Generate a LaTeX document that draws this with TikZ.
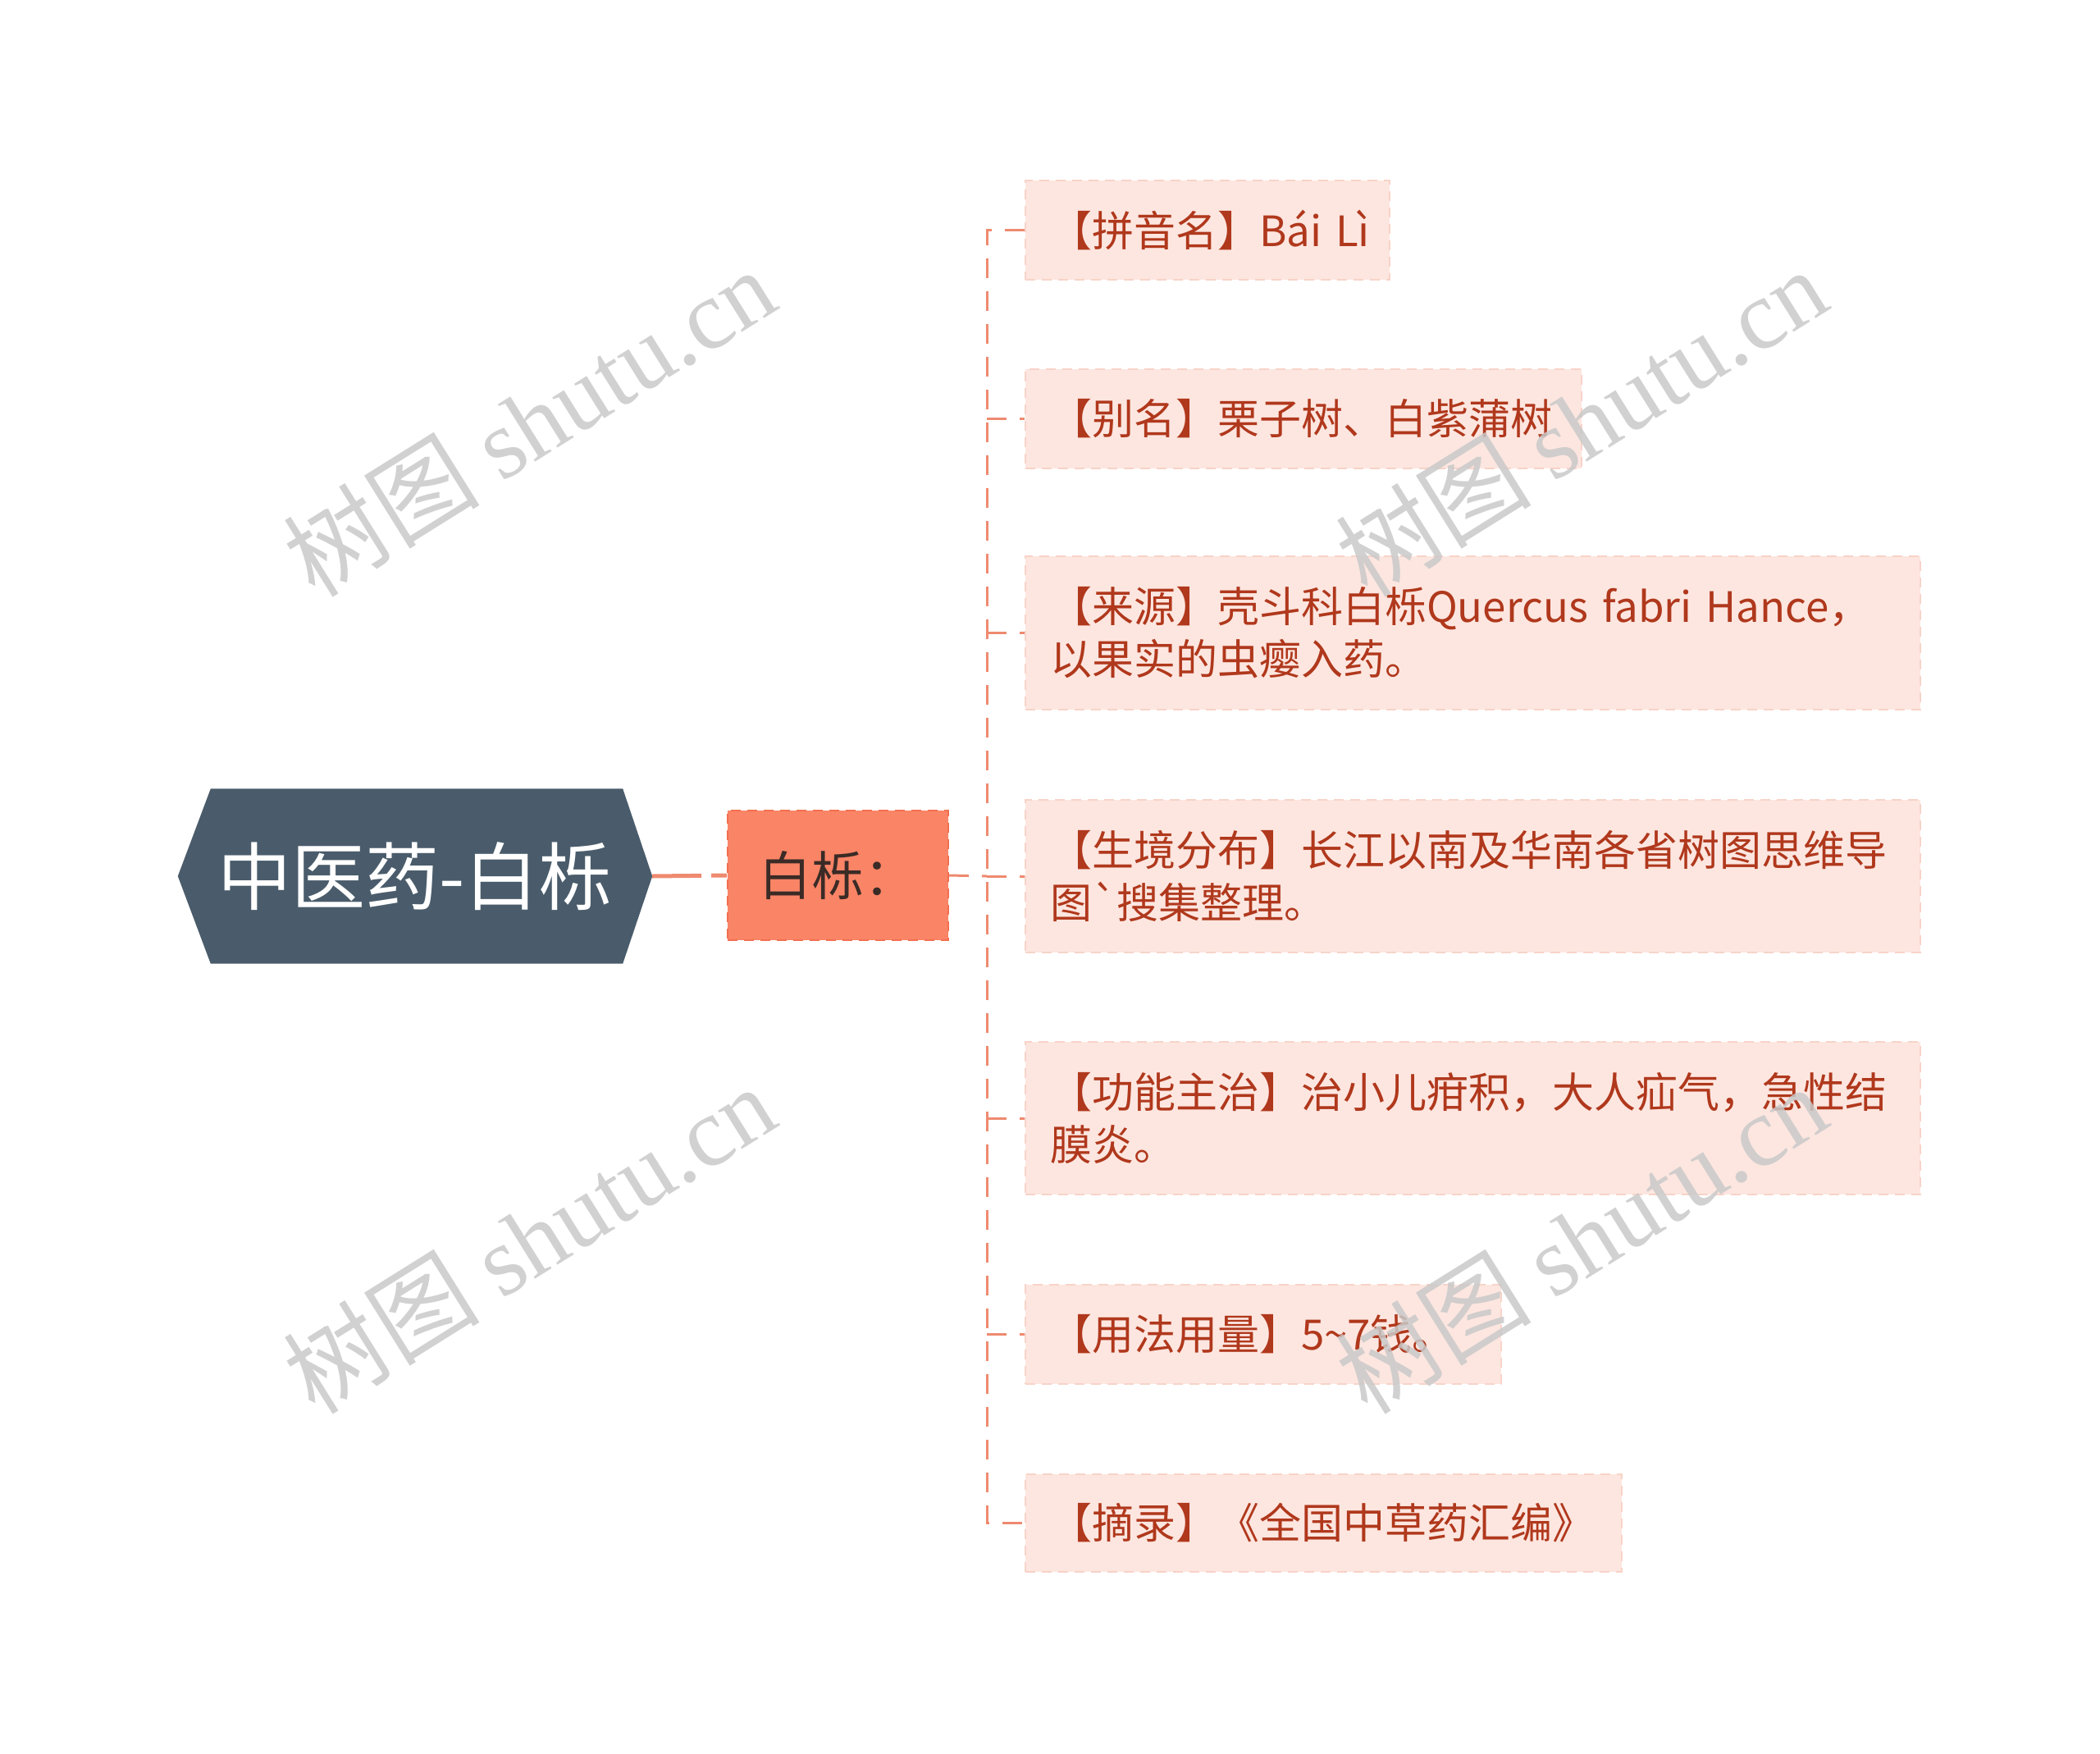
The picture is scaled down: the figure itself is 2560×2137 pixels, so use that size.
\documentclass[tikz,border=0pt]{standalone}
\usepackage{fontspec}
\newfontfamily\cjk{Noto Sans CJK SC}
\newfontfamily\wmserif{Liberation Serif}
\usetikzlibrary{backgrounds}
\definecolor{rootfill}{HTML}{4A5C6B}
\definecolor{subfill}{HTML}{FA8466}
\definecolor{subline}{HTML}{F26F50}
\definecolor{subtext}{HTML}{3B2B26}
\definecolor{leaffill}{HTML}{FDE6E0}
\definecolor{leafline}{HTML}{F8D3C8}
\definecolor{leaftext}{HTML}{B0381C}
\definecolor{conncol}{HTML}{EE8A70}
\definecolor{wmgray}{HTML}{C9C9C9}
\tikzset{
  rootnode/.style={minimum width=578pt, minimum height=213pt, inner sep=0pt,
    text=white, font=\cjk\fontsize{90}{100}\selectfont},
  subnode/.style={minimum width=269pt, minimum height=158pt, inner sep=0pt,
    fill=subfill, draw=subline, dash pattern=on 12pt off 8pt, line width=2pt,
    text=subtext, font=\cjk\fontsize{64}{70}\selectfont},
  leaf/.style={anchor=west, fill=leaffill, draw=leafline, dash pattern=on 12pt off 8pt,
    line width=2pt, text=leaftext, font=\cjk\fontsize{51}{64}\selectfont,
    align=left, inner xsep=30pt, inner ysep=0pt, minimum height=121pt},
  conn/.style={draw=conncol, line width=3pt, dash pattern=on 24pt off 16pt},
  rootconn/.style={draw=conncol, line width=5pt, dash pattern=on 60pt off 12pt},
  wm/.style={text=wmgray, text opacity=0.85, font=\cjk\fontsize{120}{120}\selectfont, rotate=32}
}
\begin{document}
\begin{tikzpicture}[x=1pt,y=-1pt]
\useasboundingbox (0,0) rectangle (2560,2137);
% root
\node[rootnode] (root) at (506,1068) {中医药-白栎};
\begin{scope}[on background layer]
\fill[rootfill] (root.west) -- ([xshift=40pt]root.north west) -- ([xshift=-36pt]root.north east)
  -- (root.east) -- ([xshift=-36pt]root.south east) -- ([xshift=40pt]root.south west) -- cycle;
\end{scope}
% sub
\node[subnode] (sub) at (1021.5,1067) {白栎：};
\coordinate (spine) at (1203,1068);
% leaves
\node[leaf, text width=384pt] (l1) at (1249,280.5) {【拼音名】Bái~Lì};
\node[leaf, text width=618pt] (l2) at (1249,510) {【别名】栗子树、白紫蒲树};
\node[leaf, text width=1031pt, minimum height=187pt] (l3) at (1249,771.5)
  {【来源】壳斗科白栎Quercus~fabri~Hance，\\以果实的虫瘿入药。};
\node[leaf, text width=1031pt, minimum height=186pt] (l4) at (1249,1068)
  {【生境分布】长江以南及华南各省树图思维导\\图`搜集整理。};
\node[leaf, text width=1031pt, minimum height=186pt] (l5) at (1249,1363)
  {【功能主治】治小儿疳积，大人疝气，急性结\\膜炎。};
\node[leaf, text width=520pt] (l6) at (1249,1626) {【用法用量】5\textasciitilde7钱。};
\node[leaf, text width=667pt, minimum height=119pt] (l7) at (1249,1856) {【摘录】《全国中草药汇编》};
% connectors
\draw[rootconn] (root.east) -- (sub.west);
\draw[conn] (sub.east) -- (spine);
\draw[conn] (l1.west) -| (spine |- l7.west) -- (l7.west);
\foreach \n in {l2,l3,l4,l5,l6} \draw[conn] (spine |- \n.west) -- (\n.west);
% watermarks
\node[wm] (wm1) at (645,514) {树图 {\wmserif shutu.cn}};
\node[wm] (wm2) at (1927,514) {树图 {\wmserif shutu.cn}};
\node[wm] (wm3) at (645,1510) {树图 {\wmserif shutu.cn}};
\node[wm] (wm4) at (1927,1510) {树图 {\wmserif shutu.cn}};
\end{tikzpicture}
\end{document}
